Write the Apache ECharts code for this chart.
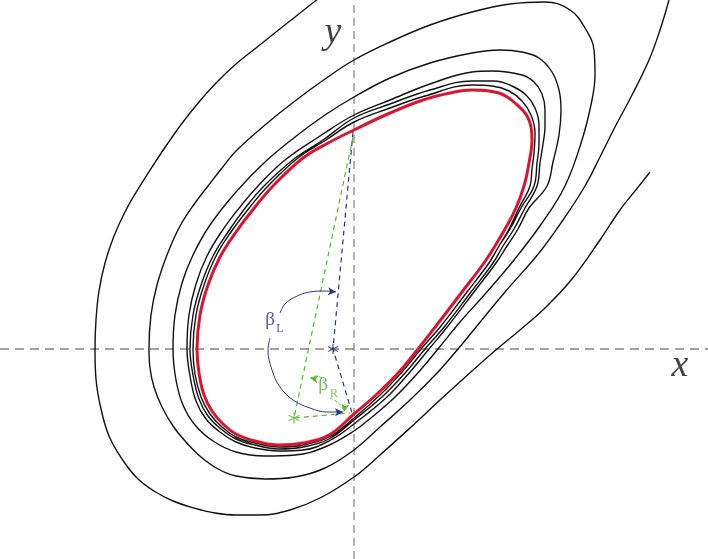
<!DOCTYPE html>
<html>
<head>
<meta charset="utf-8">
<script src="https://cdn.jsdelivr.net/npm/echarts@6/dist/echarts.min.js"></script>
<style>
  html, body { margin: 0; padding: 0; background: #fff; }
  #chart { width: 708px; height: 559px; }
</style>
</head>
<body>
<div id="chart"></div>
<script>
// phase plane, origin at the crossing of the dashed axes
const redCycle = [
  [0,219],[36,236],[69,249],[96,256],[118,259],[145,256],[161,246],[175,229],[178,209],[175,186],
  [170,163],[162,141],[151,120],[141,103],[130,86],[108,57],[82,23],[64,0],[45,-23],[23,-45],[0,-65],
  [-25,-86],[-51,-94],[-75,-96],[-99,-92],[-118,-85],[-131,-75],[-142,-62],[-150,-46],[-155,-24],
  [-157,0],[-154,34],[-146,64],[-134,92],[-118,117],[-99,142],[-81,163],[-51,191],[-24,207],[0,219]
];

const spiralOrbit = [
  [315,349],[306,319],[295,289],[278,254],[261,222],[246,192],[231,163],[209,129],[185,96],[151,57],
  [118,17],[104,0],[84,-23],[56,-51],[26,-78],[0,-101],[-29,-119],[-59,-128],[-89,-130],[-118,-127],
  [-136,-120],[-153,-108],[-168,-93],[-181,-77],[-192,-58],[-200,-38],[-204,-19],[-205,0],[-203,34],
  [-197,64],[-187,94],[-174,123],[-159,146],[-146,163],[-132,181],[-118,198],[-89,224],[-59,248],
  [-29,270],[0,289],[36,307],[76,324],[118,337],[156,345],[191,347],[216,339],[231,321],[240,299],
  [241,274],[238,249],[228,209],[211,163],
  [188,126],[160,89],[132,56],[106,27],[84,0],[62,-26],[40,-49],[18,-68],[0,-82],[-29,-98],
  [-59,-106],[-89,-107],[-118,-103],[-141,-92],[-159,-76],[-171,-56],[-178,-31],[-181,0],[-179,34],
  [-172,66],[-161,94],[-144,124],[-118,157],[-89,187],[-59,212],[-29,234],[0,252],[36,271],[76,286],
  [118,296],[146,299],[168,297],[185,291],[198,277],[205,259],[207,239],[205,214],[199,187],[193,163],
  [175,141],[164,120],[153,103],[142,86],[120,57],[94,23],[75,0],[56,-23],[33,-48],[0,-75],[-25,-92],
  [-51,-101],[-75,-102],[-99,-99],[-118,-93],[-134,-83],[-148,-70],[-158,-52],[-164,-27],[-167,0],
  [-165,34],[-158,65],[-147,93],[-132,118],[-114,142],[-96,163],[-69,189],[-34,213],[0,234],[36,249],
  [76,265],[118,277],[138,278],[168,274],[180,267],[188,255],[191,239],[191,222],[189,205],[186,186],
  [183,163],
  [171,141],[160,120],[149,103],[139,86],[117,57],[91,23],[71,0],[52,-23],[29,-47],[0,-71],[-25,-90],
  [-51,-98],[-75,-100],[-99,-96],[-118,-90],[-133,-80],[-146,-67],[-155,-50],[-161,-26],[-164,0],
  [-161,34],[-153,64],[-141,93],[-126,117],[-108,142],[-90,163],[-60,190],[-31,209],[0,231],[36,245],
  [76,259],[118,268],[140,268],[158,263],[172,254],[181,241],[185,224],[185,205],[183,186],[180,163],
  [167,141],[156,120],[145,103],[135,86],[113,57],[87,23],[67,0],[48,-23],[26,-46],[0,-69],[-25,-88],
  [-51,-96],[-75,-98],[-99,-94],[-118,-88],[-132,-78],[-144,-65],[-153,-48],[-159,-25],[-161,0],
  [-158,34],[-150,64],[-138,93],[-123,117],[-104,142],[-86,163],[-56,191],[-28,209],[0,227],[36,241],
  [71,253],[118,264],[138,263],[155,258],[168,248],[177,234],[181,216],[180,196],[178,180],[176,163],
  [165,141],[155,120],[145,103],[135,86]
];

const outerOrbit = [
  [296,177],[285,163],[266,139],[246,109],[218,70],[191,41],[166,19],[143,0],[118,-22],[86,-51],
  [56,-79],[26,-106],[0,-128],[-34,-149],[-64,-161],[-94,-166],[-118,-166],[-139,-164],[-160,-159],
  [-181,-152],[-200,-142],[-217,-129],[-232,-110],[-245,-87],[-253,-60],[-258,-30],[-259,0],[-258,29],
  [-255,58],[-249,86],[-240,113],[-228,139],[-214,163],[-200,185],[-186,206],[-171,227],[-155,247],
  [-137,267],[-118,285],[-98,301],[-78,317],[-59,332],[-40,347],[-37,349]
];

const blueRay = [[-1,217],[-21,0],[-2,-64]];
const greenRay = [[-1,212],[-60,-69],[-4,-64]];
const arcLTop = [[-74,36],[-69,45],[-59,52],[-44,57],[-29,58],[-18,57]];
const arcLBottom = [[-84,11],[-86,-1],[-82,-21],[-74,-38],[-61,-51],[-44,-59],[-27,-63],[-11,-63]];
const arcRTop = [[-32,-29],[-38,-27],[-44,-29]];
const arcRBottom = [[-24,-49],[-17,-53],[-12,-58],[-10,-63]];
const blueStar = [[-21,0]];
const greenStar = [[-60,-69]];
const axisXLine = [[-354,0],[354,0]];
const axisYLine = [[0,-210],[0,349]];

const navy = '#2b3584';
const green = '#5db534';
const asterisk = 'path://M5,0L5,10M0.7,2.5L9.3,7.5M0.7,7.5L9.3,2.5';

function arrowEnd(points, rotate) {
  return points.map((p, i) => i === points.length - 1
    ? { value: p, symbol: 'arrow', symbolSize: [6, 8], symbolRotate: rotate }
    : { value: p, symbol: 'none' });
}

function curve(data, color, width, extra) {
  return Object.assign({
    type: 'line', data: data, symbol: 'none', smooth: 0.4, silent: true,
    lineStyle: { color: color, width: width }
  }, extra || {});
}

function textMark(pos, text, size, color, italic) {
  return {
    type: 'scatter', data: [pos], symbolSize: 0, silent: true, z: 5,
    label: {
      show: true, position: 'inside', formatter: text, color: color,
      fontFamily: 'Liberation Serif', fontSize: size, fontStyle: italic ? 'italic' : 'normal'
    }
  };
}

const chart = echarts.init(document.getElementById('chart'));
chart.setOption({
  animation: false,
  grid: { left: 0, right: 0, top: 0, bottom: 0 },
  xAxis: { type: 'value', min: -354, max: 354, show: false },
  yAxis: { type: 'value', min: -210, max: 349, show: false },
  series: [
    curve(axisXLine, '#444', 1, { smooth: false, lineStyle: { color: '#444', width: 1, type: [9, 6] } }),
    curve(axisYLine, '#666', 1, { smooth: false, lineStyle: { color: '#666', width: 1, type: [8, 5] } }),
    curve(outerOrbit, '#111', 1.4),
    curve(spiralOrbit, '#111', 1.4),
    curve(redCycle, '#dd1431', 3, { z: 3 }),
    curve(blueRay, navy, 1.2, { smooth: false, lineStyle: { color: navy, width: 1.2, type: [5, 4] } }),
    curve(greenRay, green, 1.2, { smooth: false, lineStyle: { color: green, width: 1.2, type: [5, 4] } }),
    curve(arrowEnd(arcLTop, -95), navy, 1, { showSymbol: true, itemStyle: { color: navy } }),
    curve(arrowEnd(arcLBottom, -88), navy, 1, { showSymbol: true, itemStyle: { color: navy } }),
    curve(arrowEnd(arcRTop, 80), green, 1, { showSymbol: true, lineStyle: { color: green, width: 1, type: [3, 2] }, itemStyle: { color: green } }),
    curve(arrowEnd(arcRBottom, 170), green, 1, { showSymbol: true, lineStyle: { color: green, width: 1, type: [3, 2] }, itemStyle: { color: green } }),
    {
      type: 'scatter', data: blueStar, symbol: asterisk, symbolSize: 10, silent: true, z: 4,
      itemStyle: { color: 'transparent', borderColor: navy, borderWidth: 1.2 }
    },
    {
      type: 'scatter', data: greenStar, symbol: asterisk, symbolSize: 11, silent: true, z: 4,
      itemStyle: { color: 'transparent', borderColor: green, borderWidth: 1.2 }
    },
    textMark([-21, 316], 'y', 38, '#111', true),
    textMark([326, -17], 'x', 38, '#111', true),
    textMark([-84, 29], 'β', 19, navy),
    textMark([-74, 20], 'L', 12, navy),
    textMark([-31, -36], 'β', 19, green),
    textMark([-20, -45], 'R', 12, green)
  ]
});
</script>
</body>
</html>
